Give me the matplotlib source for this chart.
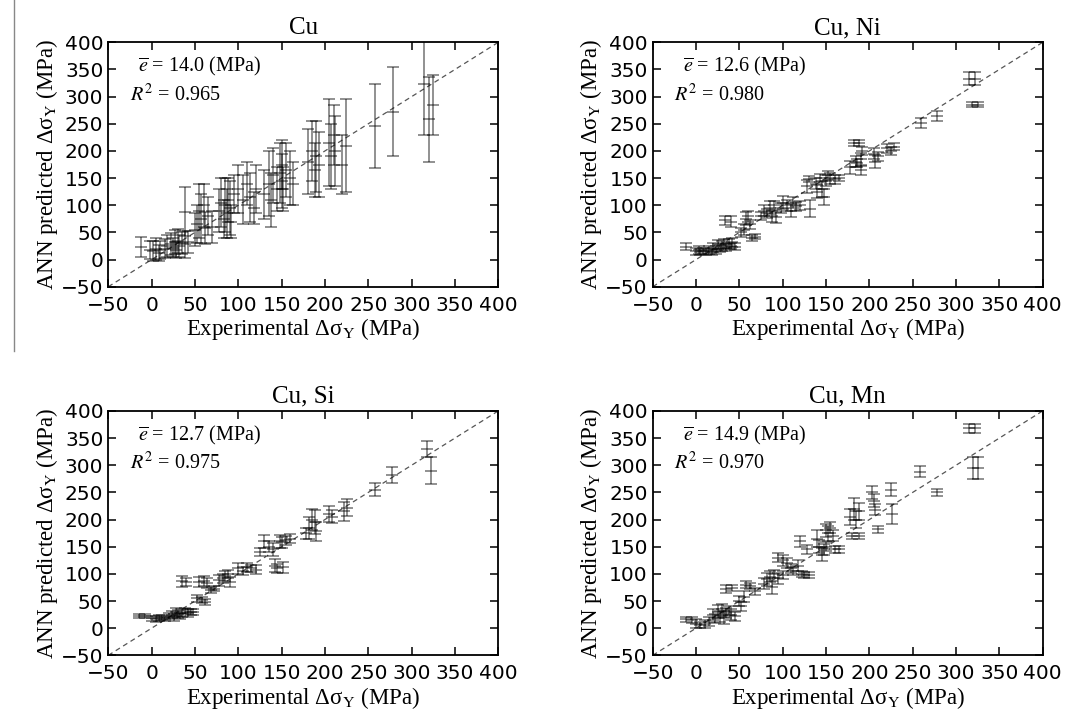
import matplotlib
matplotlib.use("Agg")
import matplotlib.pyplot as plt
from matplotlib.lines import Line2D

plt.rcParams["mathtext.fontset"] = "stix"

# ---- data (MPa) ----
cu_x = [-12, -2, 2, 5, 8, 10, 15, 18, 22, 25, 27, 28, 30, 32, 35, 38, 42, 38,
        50, 52, 55, 57, 60, 62, 65, 70, 78, 80, 83, 85, 87, 88, 90, 92, 95,
        100, 105, 110, 113, 118, 120, 130, 135, 138, 140, 145, 148, 150, 150,
        152, 155, 160, 163, 180, 185, 188, 190, 193, 205, 207, 210, 212, 220,
        224, 258, 278, 314, 320, 325]
cu_y = [23, 18, 16, 20, 12, 18, 20, 25, 28, 22, 32, 18, 35, 25, 30, 28, 32, 88,
        55, 65, 90, 75, 100, 58, 80, 60, 90, 105, 75, 100, 85, 110, 95, 70, 120,
        130, 110, 140, 115, 95, 130, 120, 140, 110, 155, 130, 160, 145, 175,
        130, 165, 150, 140, 180, 200, 165, 190, 175, 215, 190, 230, 200, 175,
        210, 246, 272, 324, 258, 285]
cu_err = [18, 17, 18, 20, 15, 17, 17, 20, 20, 18, 22, 15, 22, 20, 20, 25, 20, 45,
          30, 35, 50, 45, 40, 30, 35, 30, 40, 45, 35, 50, 45, 40, 50, 30, 35,
          45, 45, 40, 45, 30, 45, 45, 60, 50, 50, 40, 55, 50, 45,
          40, 50, 50, 40, 60, 55, 50, 65, 60, 80, 60, 55, 65, 55,
          85, 77, 82, 95, 78, 55]

ni_x = [-12, 0, 3, 5, 8, 12, 15, 18, 20, 23, 25, 28, 30, 32, 35, 38, 40, 42, 45,
        33, 40, 52, 55, 58, 60, 62, 65, 68, 75, 78, 82, 85, 88, 90, 92,
        98, 100, 105, 110, 112, 115, 120, 132, 128, 130, 138, 140, 143, 145,
        148, 150, 152, 155, 160, 165, 178, 182, 185, 188, 190, 190, 192, 186,
        205, 207, 210, 220, 225, 228, 259, 278, 315, 322, 318, 325]
ni_y = [24, 15, 18, 14, 16, 15, 18, 14, 22, 18, 28, 20, 25, 30, 22, 28, 25, 32, 24,
        72, 70, 50, 55, 75, 80, 65, 40, 42, 80, 90, 85, 95, 80, 100, 78,
        95, 105, 100, 90, 105, 98, 100, 94, 135, 148, 140, 125, 150, 130,
        115, 145, 155, 150, 148, 150, 170, 215, 180, 215, 185, 165, 200, 178,
        195, 180, 190, 205, 200, 208, 252, 264, 333, 333, 285, 285]
ni_err = [7, 6, 7, 5, 6, 6, 7, 6, 8, 7, 8, 6, 9, 8, 7, 9, 6, 8, 7,
          8, 10, 8, 10, 12, 10, 8, 6, 5, 8, 10, 8, 12, 10, 8, 10,
          10, 12, 10, 12, 10, 8, 8, 15, 12, 6, 10, 12, 8, 15,
          15, 10, 8, 10, 8, 6, 12, 6, 10, 5, 12, 10, 8, 8,
          10, 12, 8, 8, 8, 7, 9, 9, 12, 12, 5, 5]

si_x = [-15, -8, 0, 5, 8, 12, 15, 20, 23, 26, 28, 30, 33, 35, 38, 42, 45, 48,
        35, 40, 55, 60, 64, 52, 58, 62, 68, 72, 78, 82, 85, 88, 90,
        100, 105, 110, 115, 120, 125, 130, 135, 140, 142, 145, 148, 150, 152,
        155, 160, 178, 182, 185, 188, 190, 205, 208, 222, 226, 258, 277, 318, 322]
si_y = [23, 23, 18, 17, 19, 20, 17, 22, 25, 20, 30, 26, 22, 28, 32, 28, 30, 30,
        86, 85, 85, 87, 83, 55, 52, 48, 70, 73, 88, 92, 96, 100, 85,
        110, 105, 112, 110, 108, 140, 160, 150, 145, 115, 110, 160, 158, 112,
        162, 165, 175, 185, 200, 195, 178, 210, 205, 215, 222, 255, 282, 330, 290]
si_err = [4, 4, 5, 5, 6, 5, 4, 6, 7, 6, 8, 7, 6, 8, 6, 7, 6, 5,
          10, 8, 10, 9, 9, 7, 6, 6, 5, 5, 10, 8, 10, 8, 10,
          10, 8, 8, 6, 8, 8, 12, 10, 12, 12, 8, 12, 10, 10,
          8, 8, 10, 20, 20, 22, 18, 15, 12, 18, 16, 12, 15, 14, 25]

mn_x = [-12, -5, 0, 5, 10, 15, 20, 22, 25, 28, 30, 32, 35, 38, 40, 45,
        35, 42, 50, 52, 55, 58, 62, 68, 78, 82, 85, 88, 90, 95, 100,
        95, 100, 105, 110, 112, 118, 122, 125, 130, 120, 128,
        140, 142, 145, 148, 150, 152, 155, 150, 158, 160, 165,
        178, 182, 185, 188, 180, 188, 203, 205, 207, 210, 225, 226,
        258, 278, 315, 322, 320, 325]
mn_y = [16, 15, 8, 6, 8, 12, 25, 18, 30, 22, 35, 20, 28, 32, 25, 22,
        72, 74, 50, 40, 58, 80, 78, 68, 82, 90, 95, 75, 100, 92, 98,
        130, 125, 120, 110, 105, 115, 100, 98, 98, 160, 145,
        165, 150, 135, 145, 180, 175, 185, 150, 170, 145, 145,
        205, 220, 200, 215, 170, 170, 250, 235, 218, 182, 255, 210,
        288, 250, 368, 368, 295, 295]
mn_err = [5, 5, 8, 6, 7, 8, 10, 8, 12, 10, 10, 12, 10, 8, 10, 8,
          8, 6, 10, 8, 10, 6, 6, 6, 10, 12, 10, 12, 8, 10, 8,
          8, 10, 10, 8, 8, 10, 6, 5, 5, 10, 8,
          15, 12, 12, 10, 12, 14, 10, 8, 10, 6, 6,
          15, 20, 15, 15, 6, 6, 12, 12, 10, 6, 12, 18,
          10, 6, 8, 8, 20, 20]

titles = ["Cu", "Cu, Ni", "Cu, Si", "Cu, Mn"]
e_bar = ["14.0", "12.6", "12.7", "14.9"]
r_sq = ["0.965", "0.980", "0.975", "0.970"]
ticks = [-50, 0, 50, 100, 150, 200, 250, 300, 350, 400]

panels = [(cu_x, cu_y, cu_err), (ni_x, ni_y, ni_err),
          (si_x, si_y, si_err), (mn_x, mn_y, mn_err)]

fig = plt.figure(figsize=(10.70, 7.17), dpi=100)

# axes boxes in figure fractions (left, bottom, width, height)
boxes = [(0.1012, 0.6001, 0.3645, 0.3409), (0.6100, 0.6001, 0.3645, 0.3409),
         (0.1012, 0.0860, 0.3645, 0.3409), (0.6100, 0.0860, 0.3645, 0.3409)]

serif = "Liberation Serif"

for i, ((x, y, err), box) in enumerate(zip(panels, boxes)):
    ax = fig.add_axes(box)
    ax.plot([-50, 400], [-50, 400], ls=(0, (4, 3)), color="#555555", lw=0.9)
    cap = 9 if i == 0 else 8
    ax.errorbar(x, y, yerr=err, fmt="_", ms=cap, mew=1.1, color="black",
                ecolor="black", elinewidth=1.1, capsize=cap / 2, capthick=1.1,
                alpha=0.55)
    ax.set_xlim(-50, 400)
    ax.set_ylim(-50, 400)
    ax.set_xticks(ticks)
    ax.set_yticks(ticks)
    ax.tick_params(direction="in", length=6, width=1.1, top=True, right=True,
                   labelsize=14.5)
    ax.tick_params(axis="x", pad=6.5)
    ax.tick_params(axis="y", pad=3.5)
    for sp in ax.spines.values():
        sp.set_linewidth(1.3)
    ax.set_title(titles[i], fontsize=18, family=serif, pad=6)
    ax.set_xlabel("Experimental \u0394\u03c3$_{\\mathrm{Y}}$ (MPa)",
                  fontsize=16.5, family=serif, labelpad=1)
    ax.set_ylabel("ANN predicted \u0394\u03c3$_{\\mathrm{Y}}$ (MPa)",
                  fontsize=16.5, family=serif, labelpad=1)
    ax.text(0.077, 0.88, r"$\overline{e}$ = " + e_bar[i] + " (MPa)",
            transform=ax.transAxes, fontsize=14.5, family=serif)
    ax.text(0.055, 0.76, r"$R^2$ = " + r_sq[i],
            transform=ax.transAxes, fontsize=14.5, family=serif)

# thin page-edge rule at the left of the top row
fig.add_artist(Line2D([0.013, 0.013], [0.51, 1.0], color="#888888", lw=1.0,
                      transform=fig.transFigure))

fig.savefig("out.png", dpi=100)
